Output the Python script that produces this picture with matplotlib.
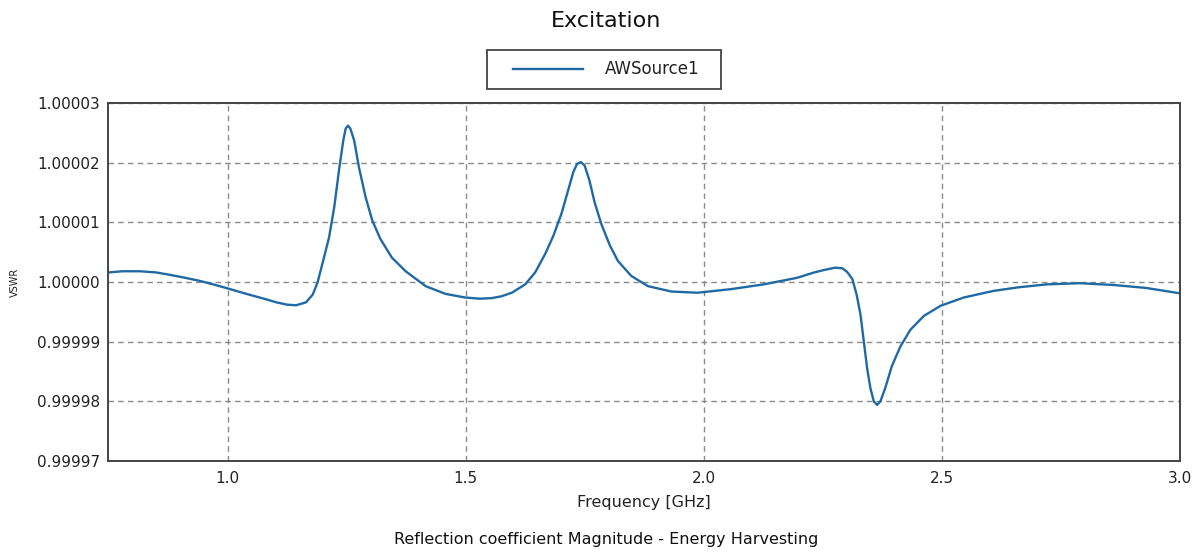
import matplotlib
matplotlib.use("Agg")
import matplotlib.pyplot as plt
from matplotlib.ticker import FormatStrFormatter, FixedLocator
from matplotlib.patches import Rectangle
from matplotlib.lines import Line2D

plt.rcParams['font.family'] = ['DejaVu Sans']

# Frequency [GHz]
freq = [0.750, 0.780, 0.816, 0.850, 0.872, 0.905, 0.941, 0.970, 0.997, 1.040,
        1.081, 1.102, 1.125, 1.144, 1.165, 1.179, 1.189, 1.199, 1.213, 1.224,
        1.234, 1.243, 1.248, 1.253, 1.258, 1.266, 1.276, 1.290, 1.304, 1.321,
        1.345, 1.374, 1.416, 1.458, 1.499, 1.530, 1.555, 1.575, 1.597, 1.625,
        1.646, 1.667, 1.684, 1.701, 1.715, 1.726, 1.734, 1.742, 1.750, 1.760,
        1.771, 1.785, 1.803, 1.820, 1.848, 1.883, 1.932, 1.987, 2.057, 2.126,
        2.196, 2.232, 2.252, 2.276, 2.291, 2.301, 2.312, 2.321, 2.329, 2.336,
        2.343, 2.350, 2.357, 2.364, 2.371, 2.381, 2.395, 2.413, 2.434, 2.462,
        2.497, 2.546, 2.608, 2.660, 2.720, 2.789, 2.860, 2.929, 3.000]
# VSWR deviation from 1, in units of 1e-5
vswr_dev_e5 = [0.16, 0.18, 0.18, 0.16, 0.13, 0.08, 0.02, -0.04, -0.10, -0.20,
               -0.29, -0.34, -0.38, -0.39, -0.34, -0.21, -0.01, 0.30, 0.74, 1.25,
               1.87, 2.37, 2.57, 2.62, 2.57, 2.37, 1.92, 1.42, 1.03, 0.72,
               0.41, 0.18, -0.07, -0.20, -0.26, -0.28, -0.27, -0.24, -0.18, -0.04,
               0.16, 0.47, 0.77, 1.14, 1.53, 1.84, 1.98, 2.01, 1.95, 1.70,
               1.33, 0.97, 0.61, 0.35, 0.10, -0.07, -0.16, -0.18, -0.12, -0.04,
               0.07, 0.16, 0.20, 0.24, 0.23, 0.17, 0.05, -0.21, -0.54, -0.99,
               -1.44, -1.78, -2.00, -2.06, -2.00, -1.78, -1.41, -1.08, -0.80, -0.57,
               -0.40, -0.26, -0.15, -0.09, -0.04, -0.02, -0.05, -0.10, -0.19]
vswr = [1.0 + d * 1e-5 for d in vswr_dev_e5]

x_ticks = [1.0, 1.5, 2.0, 2.5, 3.0]
y_ticks = [0.99997, 0.99998, 0.99999, 1.00000, 1.00001, 1.00002, 1.00003]
series_name = "AWSource1"

fig = plt.figure(figsize=(12, 5.52), dpi=100)
ax = fig.add_axes([0.0904, 0.1649, 0.8929, 0.6485])

line_color = '#1f6aa5'
ax.plot(freq, vswr, color=line_color, lw=1.7, solid_joinstyle='round')

ax.set_xlim(0.75, 3.0)
ax.set_ylim(0.99997, 1.00003)
ax.xaxis.set_major_locator(FixedLocator(x_ticks))
ax.yaxis.set_major_locator(FixedLocator(y_ticks))
ax.xaxis.set_major_formatter(FormatStrFormatter('%.1f'))
ax.yaxis.set_major_formatter(FormatStrFormatter('%.5f'))
ax.tick_params(axis='both', length=0, labelsize=11, colors='#222222')
ax.tick_params(axis='x', pad=7)
ax.tick_params(axis='y', pad=6)
ax.grid(True, color='#8a8a8a', linestyle=(0, (4, 3)), lw=1.0)
for s in ax.spines.values():
    s.set_color('#444444')
    s.set_linewidth(1.4)

ax.set_xlabel('Frequency [GHz]', fontsize=11.5, color='#222222', labelpad=7)
fig.text(0.0125, 0.489, 'VSWR', rotation=90, fontsize=7, ha='center', va='center', color='#222222')

fig.text(0.505, 0.962, 'Excitation', fontsize=16, ha='center', va='center', color='#111111')
fig.text(0.505, 0.022, 'Reflection coefficient Magnitude - Energy Harvesting',
         fontsize=11.5, ha='center', va='center', color='#111111')

# legend box
fig.patches.append(Rectangle((487/1200, 1-89/552), 234/1200, 39/552,
                             transform=fig.transFigure, fill=False,
                             edgecolor='#444444', lw=1.3))
fig.lines.append(Line2D([513/1200, 583/1200], [1-69/552, 1-69/552],
                        transform=fig.transFigure, color=line_color, lw=1.7))
fig.text(605/1200, 1-69/552, series_name, fontsize=12, ha='left', va='center', color='#222222')

fig.savefig('out.png', dpi=100)
